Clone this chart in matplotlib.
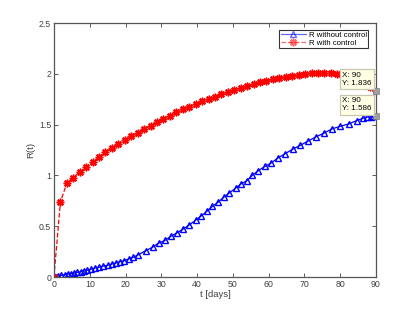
import matplotlib
matplotlib.use("Agg")
import matplotlib.pyplot as plt

plt.rcParams['font.family'] = ['Liberation Sans', 'DejaVu Sans']

t_blue = [0, 0.3, 1.2, 2.1, 3.1, 4.0, 4.7, 5.6, 6.5, 7.5, 8.4, 9.3, 10.3, 11.5,
          12.7, 13.8, 15.0, 16.2, 17.3, 18.4, 19.6, 20.9, 22.2, 23.6, 25.7, 27.6,
          29.3, 31.0, 32.6, 34.3, 36.0, 37.7, 39.6, 41.1, 42.7, 44.3, 45.9, 47.5,
          49.0, 50.8, 52.2, 53.9, 55.4, 57.1, 59.0, 60.6, 62.5, 64.6, 66.9, 68.8,
          71.1, 73.2, 75.5, 77.6, 79.9, 82.5, 84.6, 86.5, 87.6, 88.5, 89.3, 90.0]
r_blue = [0, 0.005, 0.010, 0.017, 0.023, 0.030, 0.033, 0.040, 0.046, 0.053, 0.059,
          0.066, 0.076, 0.089, 0.098, 0.108, 0.115, 0.128, 0.138, 0.150, 0.160,
          0.178, 0.195, 0.220, 0.260, 0.295, 0.335, 0.360, 0.400, 0.433, 0.470,
          0.510, 0.560, 0.600, 0.646, 0.695, 0.738, 0.787, 0.827, 0.876, 0.915,
          0.948, 1.000, 1.047, 1.090, 1.120, 1.170, 1.214, 1.263, 1.296, 1.340,
          1.380, 1.417, 1.457, 1.483, 1.509, 1.540, 1.565, 1.575, 1.580, 1.585, 1.586]

t_red = [0, 1.8, 3.6, 5.4, 7.2, 9.0, 10.8, 12.6, 14.4, 16.2, 18.0, 19.8, 21.6, 23.4,
         25.2, 27.0, 28.8, 30.6, 32.4, 34.2, 36.0, 37.8, 39.6, 41.4, 43.2, 45.0,
         46.8, 48.6, 50.4, 52.2, 54.0, 55.8, 57.6, 59.4, 61.2, 63.0, 64.8, 66.6,
         68.4, 70.2, 72.0, 73.8, 75.6, 77.4, 79.2, 81.0, 82.8, 84.6, 86.4, 88.2, 90.0]
r_red = [0, 0.738, 0.925, 0.980, 1.033, 1.083, 1.132, 1.180, 1.230, 1.270, 1.310,
         1.350, 1.390, 1.420, 1.460, 1.490, 1.526, 1.560, 1.590, 1.620, 1.650,
         1.670, 1.700, 1.730, 1.750, 1.775, 1.800, 1.820, 1.840, 1.860, 1.880,
         1.896, 1.916, 1.930, 1.946, 1.960, 1.970, 1.980, 1.990, 2.000, 2.010,
         2.010, 2.010, 2.005, 2.000, 1.990, 1.975, 1.950, 1.915, 1.870, 1.836]

tips = [(90, 1.836), (90, 1.586)]

fig = plt.figure(figsize=(4.15, 3.12), dpi=100)
ax = fig.add_axes([0.130, 0.112, 0.776, 0.814])

ax.plot(t_blue, r_blue, '-', color='blue', lw=0.9, marker='^', ms=5,
        mfc='none', mec='blue', mew=1.0, label='R without control')
ax.plot(t_red, r_red, '--', color='red', lw=0.9, marker=(8, 2, 0), ms=5.5,
        mec='red', mew=1.1, label='R with control')

ax.set_xlim(0, 90)
ax.set_ylim(0, 2.5)
ax.set_xticks([0, 10, 20, 30, 40, 50, 60, 70, 80, 90])
ax.set_yticks([0, 0.5, 1, 1.5, 2, 2.5])
ax.set_yticklabels(['0', '0.5', '1', '1.5', '2', '2.5'])
ax.tick_params(direction='in', length=3, width=0.6, labelsize=6.3,
               colors='#404040', top=True, right=True, pad=2)
for s in ax.spines.values():
    s.set_color('#555555')
    s.set_linewidth(0.9)

ax.set_xlabel('t [days]', fontsize=6.8, color='#404040', labelpad=1)
ax.set_ylabel('R(t)', fontsize=6.8, color='#404040', labelpad=3)

leg = ax.legend(loc='upper right', fontsize=5.6, frameon=True, fancybox=False,
                borderpad=0.15, labelspacing=0.05, handlelength=3.2,
                handletextpad=0.4, borderaxespad=0,
                bbox_to_anchor=(0.975, 0.972))
leg.get_frame().set_edgecolor('black')
leg.get_frame().set_linewidth(0.8)
for h in leg.legend_handles:
    h.set_alpha(0.6)

for (x, y) in tips:
    ax.plot([x], [y], 's', ms=4.5, color='#a0a0a0', mec='#808080', mew=0.5,
            clip_on=False, zorder=5)
    ax.annotate('X: %g\nY: %.3f' % (x, y), xy=(x, y), xytext=(-3, 2.5),
                textcoords='offset points', ha='right', va='bottom',
                multialignment='left',
                fontsize=5.8, color='black', linespacing=1.3,
                bbox=dict(boxstyle='square,pad=0.28', fc='#ffffe6',
                          ec='#c8c8b0', lw=0.9), zorder=6)

fig.savefig('out.png', dpi=100)
